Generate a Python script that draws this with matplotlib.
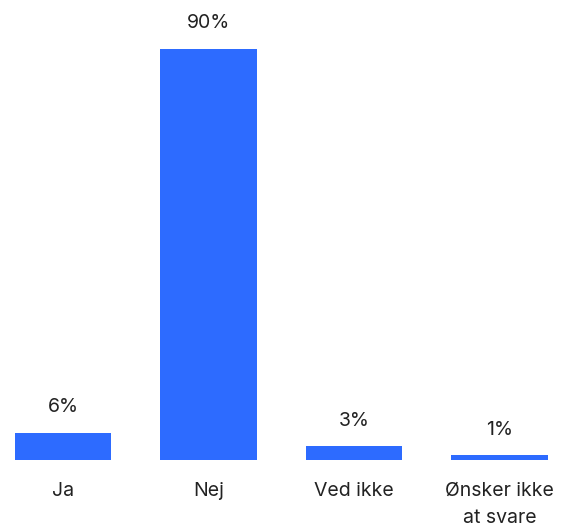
import matplotlib.pyplot as plt

categories = ['Ja', 'Nej', 'Ved ikke', 'Ønsker ikke\nat svare']
values = [6, 90, 3, 1]
labels = ['6%', '90%', '3%', '1%']

plt.rcParams['font.family'] = ['Inter', 'DejaVu Sans']

fig = plt.figure(figsize=(5.68, 5.29), dpi=100)
ax = fig.add_axes([0, 69/529, 1, 460/529])

x = range(len(categories))
bars = ax.bar(x, values, width=0.66, color='#2D6BFF')

for b, lab in zip(bars, labels):
    ax.annotate(lab, (b.get_x() + b.get_width()/2, b.get_height()),
                xytext=(0, 12), textcoords='offset points',
                ha='center', va='bottom', fontsize=14, color='#222222')

ax.set_xlim(-63/145.5, (568-63)/145.5)
ax.set_ylim(0, 90*460/411)
ax.set_xticks(list(x))
ax.set_xticklabels(categories, fontsize=14, color='#222222', linespacing=1.6)
ax.tick_params(axis='x', length=0, pad=16)
ax.set_yticks([])
for s in ax.spines.values():
    s.set_visible(False)

fig.savefig('out.png', dpi=100)
